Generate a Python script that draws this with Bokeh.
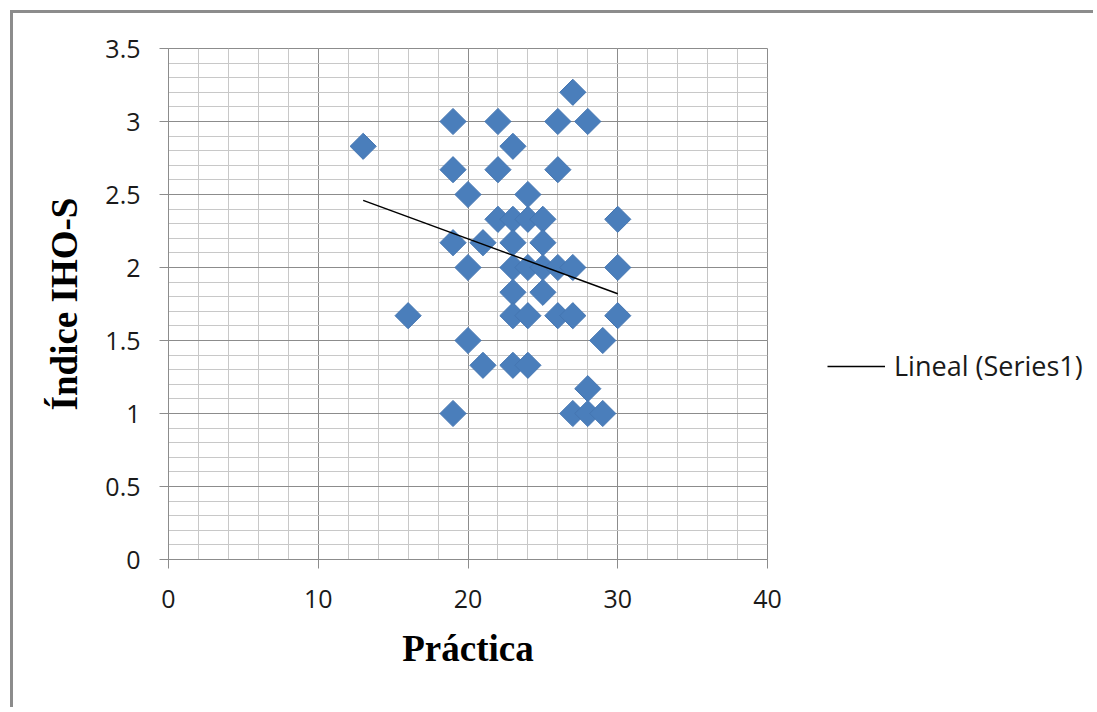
import numpy as np
from bokeh.plotting import figure
from bokeh.layouts import row
from bokeh.models import (FixedTicker, CustomJSTickFormatter, Legend, LegendItem,
                          ColumnDataSource, Range1d)
from bokeh.embed import file_html
from bokeh.resources import INLINE

# ---- data ----
practica = [13, 16, 19, 19, 19, 19, 20, 20, 20, 21, 21, 22, 22, 22,
            23, 23, 23, 23, 23, 23, 23, 24, 24, 24, 24, 24, 25, 25, 25, 25,
            26, 26, 26, 26, 27, 27, 27, 27, 28, 28, 28, 29, 29, 30, 30, 30]
indice = [2.83, 1.67, 3.0, 2.67, 2.17, 1.0, 2.5, 2.0, 1.5, 2.17, 1.33, 3.0, 2.67, 2.33,
          2.83, 2.33, 2.17, 2.0, 1.83, 1.67, 1.33, 2.5, 2.33, 2.0, 1.67, 1.33, 2.33, 2.17, 2.0, 1.83,
          3.0, 2.67, 2.0, 1.67, 3.2, 2.0, 1.67, 1.0, 3.0, 1.17, 1.0, 1.5, 1.0, 2.33, 2.0, 1.67]
trend_x = [13, 30]
trend_y = [2.46, 1.82]
x_ticks = [0, 10, 20, 30, 40]
y_ticks = [0, 0.5, 1, 1.5, 2, 2.5, 3, 3.5]
legend_label = "Lineal (Series1)"
x_title = "Práctica"
y_title = "Índice IHO-S"

GRID_MAJOR = "#8c8c8c"
GRID_MINOR = "#c8c8c8"
FRAME = "3px solid #8c8c8c"
BLUE = "#4a7ebb"
H = 697

p = figure(width=774, height=H, output_backend="svg", toolbar_location=None,
           x_range=Range1d(0, 40), y_range=Range1d(0, 3.5),
           min_border_left=155, min_border_right=20, min_border_top=35,
           min_border_bottom=H - 546, background_fill_color="white",
           border_fill_color="white")
p.styles = {"border-left": FRAME, "border-top": FRAME,
            "margin-left": "10px", "margin-top": "10px"}

p.xaxis.ticker = FixedTicker(ticks=x_ticks, minor_ticks=list(np.arange(0, 40.01, 2)))
p.yaxis.ticker = FixedTicker(ticks=y_ticks, minor_ticks=list(np.round(np.arange(0, 3.501, 0.1), 2)))
fmt = CustomJSTickFormatter(code="return String(Math.round(tick*10)/10);")
p.xaxis.formatter = fmt
p.yaxis.formatter = fmt

for ax in (p.xaxis, p.yaxis):
    ax.axis_line_color = GRID_MAJOR
    ax.major_tick_line_color = GRID_MAJOR
    ax.major_tick_out = 9
    ax.major_tick_in = 0
    ax.minor_tick_line_color = None
    ax.major_label_text_font = "Open Sans"
    ax.major_label_text_font_size = "25px"
    ax.major_label_text_color = "#1a1a1a"
    ax.axis_label_text_font = "Liberation Serif"
    ax.axis_label_text_font_style = "bold"
    ax.axis_label_text_color = "black"

p.xaxis.major_label_standoff = 21
p.yaxis.major_label_standoff = 19
p.xaxis.axis_label = x_title
p.yaxis.axis_label = y_title
p.xaxis.axis_label_text_font_size = "37px"
p.yaxis.axis_label_text_font_size = "37px"
p.xaxis.axis_label_standoff = 17
p.yaxis.axis_label_standoff = 17

for g in (p.xgrid, p.ygrid):
    g.grid_line_color = GRID_MAJOR
    g.minor_grid_line_color = GRID_MINOR
    g.grid_line_width = 1
    g.minor_grid_line_width = 1
p.outline_line_color = GRID_MAJOR

src = ColumnDataSource(dict(x=practica, y=indice))
p.scatter("x", "y", source=src, marker="square", size=18.5, angle=np.pi / 4,
          fill_color=BLUE, line_color="#4576b2", line_width=1)
p.line(trend_x, trend_y, line_color="black", line_width=1.5)

# ---- legend panel (separate canvas to the right, so it is not clipped) ----
q = figure(width=309, height=H, output_backend="svg", toolbar_location=None,
           x_axis_type=None, y_axis_type=None,
           x_range=Range1d(-100, -99), y_range=Range1d(-100, -99),
           min_border=0, min_border_left=0, min_border_right=0,
           min_border_top=0, min_border_bottom=0,
           background_fill_color="white", border_fill_color="white")
q.grid.visible = False
q.outline_line_color = None
q.styles = {"border-top": FRAME, "margin-top": "10px"}
trend_key = q.line(trend_x, trend_y, line_color="black", line_width=1.5)

legend = Legend(items=[LegendItem(label=legend_label, renderers=[trend_key])],
                location=(43, 175), orientation="vertical")
legend.background_fill_alpha = 0
legend.border_line_color = None
legend.padding = 0
legend.margin = 0
legend.spacing = 0
legend.glyph_width = 58
legend.glyph_height = 24
legend.label_standoff = 9
legend.label_text_font = "Open Sans"
legend.label_text_font_size = "27px"
legend.label_text_color = "#1a1a1a"
q.add_layout(legend)

layout = row(p, q)
open("out.html", "w").write(file_html(layout, INLINE))
